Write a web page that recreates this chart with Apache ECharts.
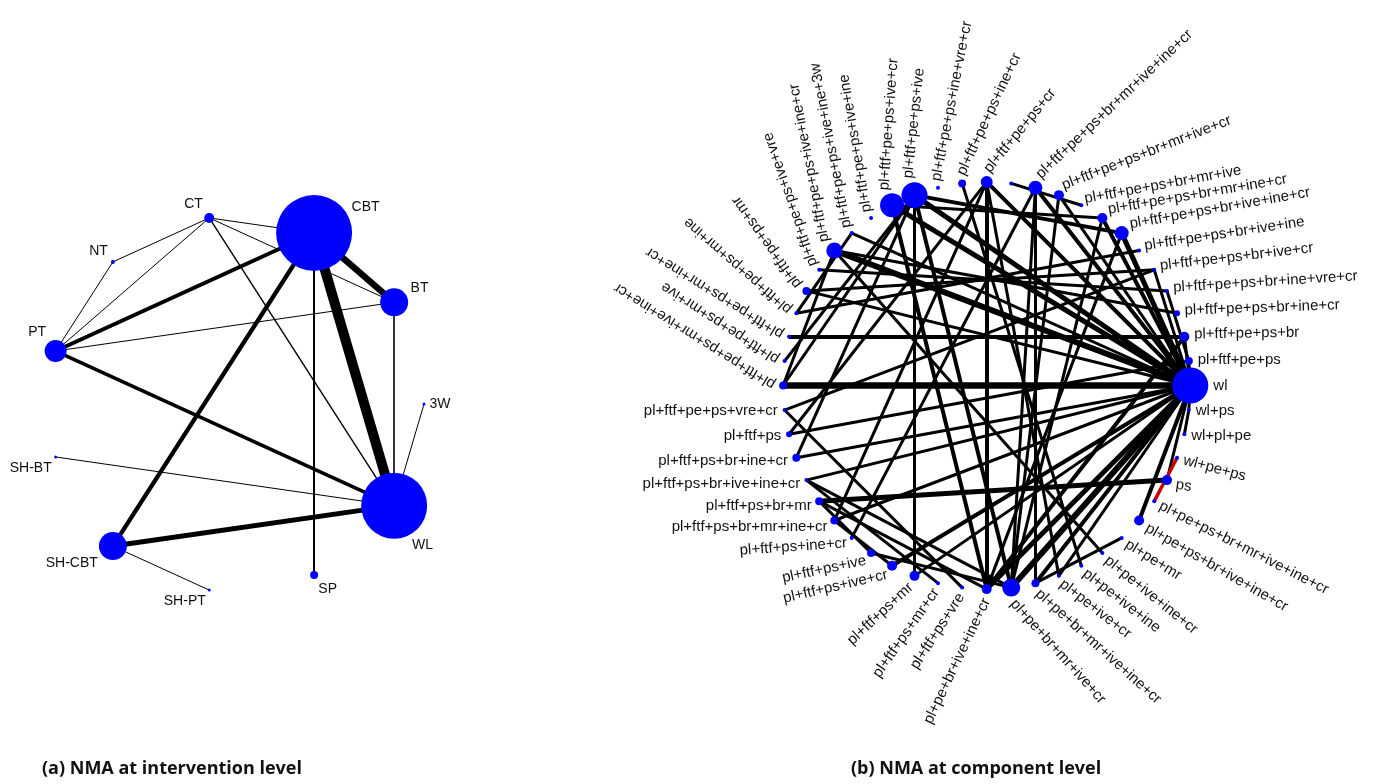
<!DOCTYPE html>
<html><head><meta charset="utf-8">
<script src="https://cdn.jsdelivr.net/npm/echarts@6/dist/echarts.min.js"></script>
<style>html,body{margin:0;padding:0;background:#fff}#c{width:1378px;height:784px}</style>
</head><body><div id="c"></div>
<script>
// ---------- DATA ----------
// (a) intervention level: nodes in ring order (clockwise from the right)
const leftNodes = ['3W','WL','SP','SH-PT','SH-CBT','SH-BT','PT','NT','CT','CBT','BT'];
const leftNodeWeight = [3, 66, 8, 3, 28, 3, 22, 4, 10, 76, 28];
const leftEdges = [
  ['CBT','WL',10], ['CBT','BT',6.5], ['CBT','PT',4], ['CBT','SH-CBT',4.3], ['SH-CBT','WL',5],
  ['PT','WL',3.6], ['CBT','SP',2], ['BT','WL',1.6], ['CT','CBT',1], ['CT','BT',1],
  ['CT','WL',1.4], ['CT','PT',1], ['NT','PT',1], ['NT','CT',1], ['PT','BT',1],
  ['SH-BT','WL',1], ['SH-CBT','SH-PT',1], ['3W','WL',1]
];
// (b) component level: nodes in ring order (clockwise from wl)
const rightNodes = [
 'wl','wl+ps','wl+pl+pe','wl+pe+ps','ps',
 'pl+pe+ps+br+mr+ive+ine+cr','pl+pe+ps+br+ive+ine+cr','pl+pe+mr','pl+pe+ive+ine+cr','pl+pe+ive+ine',
 'pl+pe+ive+cr','pl+pe+br+mr+ive+ine+cr','pl+pe+br+mr+ive+cr','pl+pe+br+ive+ine+cr',
 'pl+ftf+ps+vre','pl+ftf+ps+mr+cr','pl+ftf+ps+mr','pl+ftf+ps+ive+cr','pl+ftf+ps+ive','pl+ftf+ps+ine+cr',
 'pl+ftf+ps+br+mr+ine+cr','pl+ftf+ps+br+mr','pl+ftf+ps+br+ive+ine+cr','pl+ftf+ps+br+ine+cr','pl+ftf+ps',
 'pl+ftf+pe+ps+vre+cr','pl+ftf+pe+ps+mr+ive+ine+cr','pl+ftf+pe+ps+mr+ive','pl+ftf+pe+ps+mr+ine+cr',
 'pl+ftf+pe+ps+mr+ine','pl+ftf+pe+ps+mr','pl+ftf+pe+ps+ive+vre','pl+ftf+pe+ps+ive+ine+cr',
 'pl+ftf+pe+ps+ive+ine+3w','pl+ftf+pe+ps+ive+ine','pl+ftf+pe+ps+ive+cr','pl+ftf+pe+ps+ive',
 'pl+ftf+pe+ps+ine+vre+cr','pl+ftf+pe+ps+ine+cr','pl+ftf+pe+ps+cr','',
 'pl+ftf+pe+ps+br+mr+ive+ine+cr','pl+ftf+pe+ps+br+mr+ive+cr','pl+ftf+pe+ps+br+mr+ive',
 'pl+ftf+pe+ps+br+mr+ine+cr','pl+ftf+pe+ps+br+ive+ine+cr','pl+ftf+pe+ps+br+ive+ine',
 'pl+ftf+pe+ps+br+ive+cr','pl+ftf+pe+ps+br+ine+vre+cr','pl+ftf+pe+ps+br+ine+cr','pl+ftf+pe+ps+br','pl+ftf+pe+ps'
];
const rightNodeWeight = [36,4,4,4,10,4,10,4,4,4,4,8,18,10,4,4,10,10,8,4,8,8,4,8,6,4,8,4,4,4,8,4,16,4,4,24,26,4,8,12,4,14,10,4,10,14,4,4,4,6,10,8];
// edges: [from index, to index, width]
const rightEdges = [
 [0,26,6.5],[0,32,6],[0,36,5],[0,35,5],[0,39,4],[0,41,4],[0,42,3],[0,44,4],[0,45,5],[0,47,3],
 [0,50,3],[0,51,3],[0,12,6],[0,13,5],[0,11,4],[0,10,3],[0,6,4],[0,4,3],[0,23,3],
 [0,22,3],[0,20,3],[0,17,4],[0,16,3],[0,30,3],[0,33,3],[0,1,3],
 [28,50,4],[36,16,3],[41,11,3],[42,12,3],[4,21,5],[1,2,3],[7,11,3],[36,12,4],[35,13,4],
 [39,13,4],[32,49,3],[36,45,4],[35,44,3],[39,20,3],[41,19,3],[36,23,3],[30,47,3],[26,32,3],
 [25,14,3],[24,51,3],[29,46,3],[12,18,3],[13,21,3],[12,22,3],[15,22,3],[31,48,3],
 [45,13,3],[44,12,3],[50,13,4],[41,12,3],[39,10,3],[38,9,3],[48,51,3],[8,32,3],[18,21,3],[17,20,3],
 [24,39,3],[25,47,3],[26,36,3],[27,36,3],[29,33,3],[40,43,3]
];
const highlightEdge = [3,5,3.5]; // red edge
const titles = ['(a) NMA at intervention level', '(b) NMA at component level'];

// ---------- STYLE ----------
const leftLabelDir = [0, 61, 58, 129, 147, 135, -129, -146, -135, -27, -24];
const rightLabelRot = [0,0,0,-15,-8,-27,-30,-32,-39,-38,-38,-42,-48,64.6,57,55,43,13,12,4,0,0,0,0,0,0,
  148,147,148,139,125.5,109,101,101,99.5,86,84,79,65,50.5,0,43.4,21.4,10.4,9.7,10,8.6,6.7,3.6,2,1,0];
const FONT = '"Liberation Sans", Arial, sans-serif';

function ring(i, n) {
  const t = i * 2 * Math.PI / n;
  return [Math.cos(t), -Math.sin(t)];
}

const leftData = leftNodes.map((name, i) => {
  const sz = leftNodeWeight[i];
  const a = leftLabelDir[i] * Math.PI / 180;
  const d = sz / 2 + 4;
  const c = Math.cos(a), s = Math.sin(a);
  return {
    name, value: ring(i, leftNodes.length), symbolSize: sz,
    label: {
      show: true, position: 'inside', formatter: name,
      offset: [d * c, d * s],
      align: c > 0.3 ? 'left' : (c < -0.3 ? 'right' : 'center'),
      verticalAlign: s < -0.3 ? 'bottom' : (s > 0.3 ? 'top' : 'middle'),
      fontSize: 14, color: '#111', fontFamily: FONT
    }
  };
});

const N = rightNodes.length;
const rightData = rightNodes.map((name, i) => {
  const sz = rightNodeWeight[i];
  const phi = -i * 360 / N;                // math angle of node
  const rho = rightLabelRot[i];
  const toward = (i >= 13 && i <= 25);
  const d = sz / 2 + 5;
  const q = (phi - rho) * Math.PI / 180;
  return {
    name: name || ('n' + i), value: ring(i, N), symbolSize: sz,
    label: {
      show: !!name, position: 'inside', formatter: name,
      rotate: rho,
      offset: [d * Math.cos(q), -d * Math.sin(q)],
      align: toward ? 'right' : 'left', verticalAlign: 'middle',
      fontSize: 15, color: '#111', fontFamily: FONT
    }
  };
});

const leftLinks = leftEdges.map(e => ({source: e[0], target: e[1], lineStyle: {width: e[2]}}));
const rightLinks = rightEdges.map(e => ({source: e[0], target: e[1], lineStyle: {width: e[2]}}));
rightLinks.push({source: highlightEdge[0], target: highlightEdge[1], lineStyle: {width: highlightEdge[2], color: '#c40000'}});

const chart = echarts.init(document.getElementById('c'), null, {renderer: 'canvas'});
const axisOff = {type: 'value', min: -1, max: 1, show: false};
const titleStyle = {fontSize: 18, fontWeight: 'bold', color: '#111', fontFamily: '"Open Sans", sans-serif'};
chart.setOption({
  animation: false,
  backgroundColor: '#fff',
  title: [
    {text: titles[0], left: 42, top: 760, padding: 0, textStyle: titleStyle},
    {text: titles[1], left: 851, top: 760, padding: 0, textStyle: titleStyle}
  ],
  grid: [
    {left: 48, top: 216, width: 376, height: 376},
    {left: 783.1, top: 181.9, width: 407.2, height: 407.2}
  ],
  xAxis: [Object.assign({gridIndex: 0}, axisOff), Object.assign({gridIndex: 1}, axisOff)],
  yAxis: [Object.assign({gridIndex: 0}, axisOff), Object.assign({gridIndex: 1}, axisOff)],
  series: [
    {
      type: 'graph', coordinateSystem: 'cartesian2d', xAxisIndex: 0, yAxisIndex: 0,
      symbol: 'circle', silent: true,
      itemStyle: {color: '#0000ff'},
      lineStyle: {color: '#000', opacity: 1, curveness: 0},
      data: leftData, links: leftLinks
    },
    {
      type: 'graph', coordinateSystem: 'cartesian2d', xAxisIndex: 1, yAxisIndex: 1,
      symbol: 'circle', silent: true,
      itemStyle: {color: '#0000ff'},
      lineStyle: {color: '#000', opacity: 1, curveness: 0},
      data: rightData, links: rightLinks
    }
  ]
});
</script>
</body></html>
